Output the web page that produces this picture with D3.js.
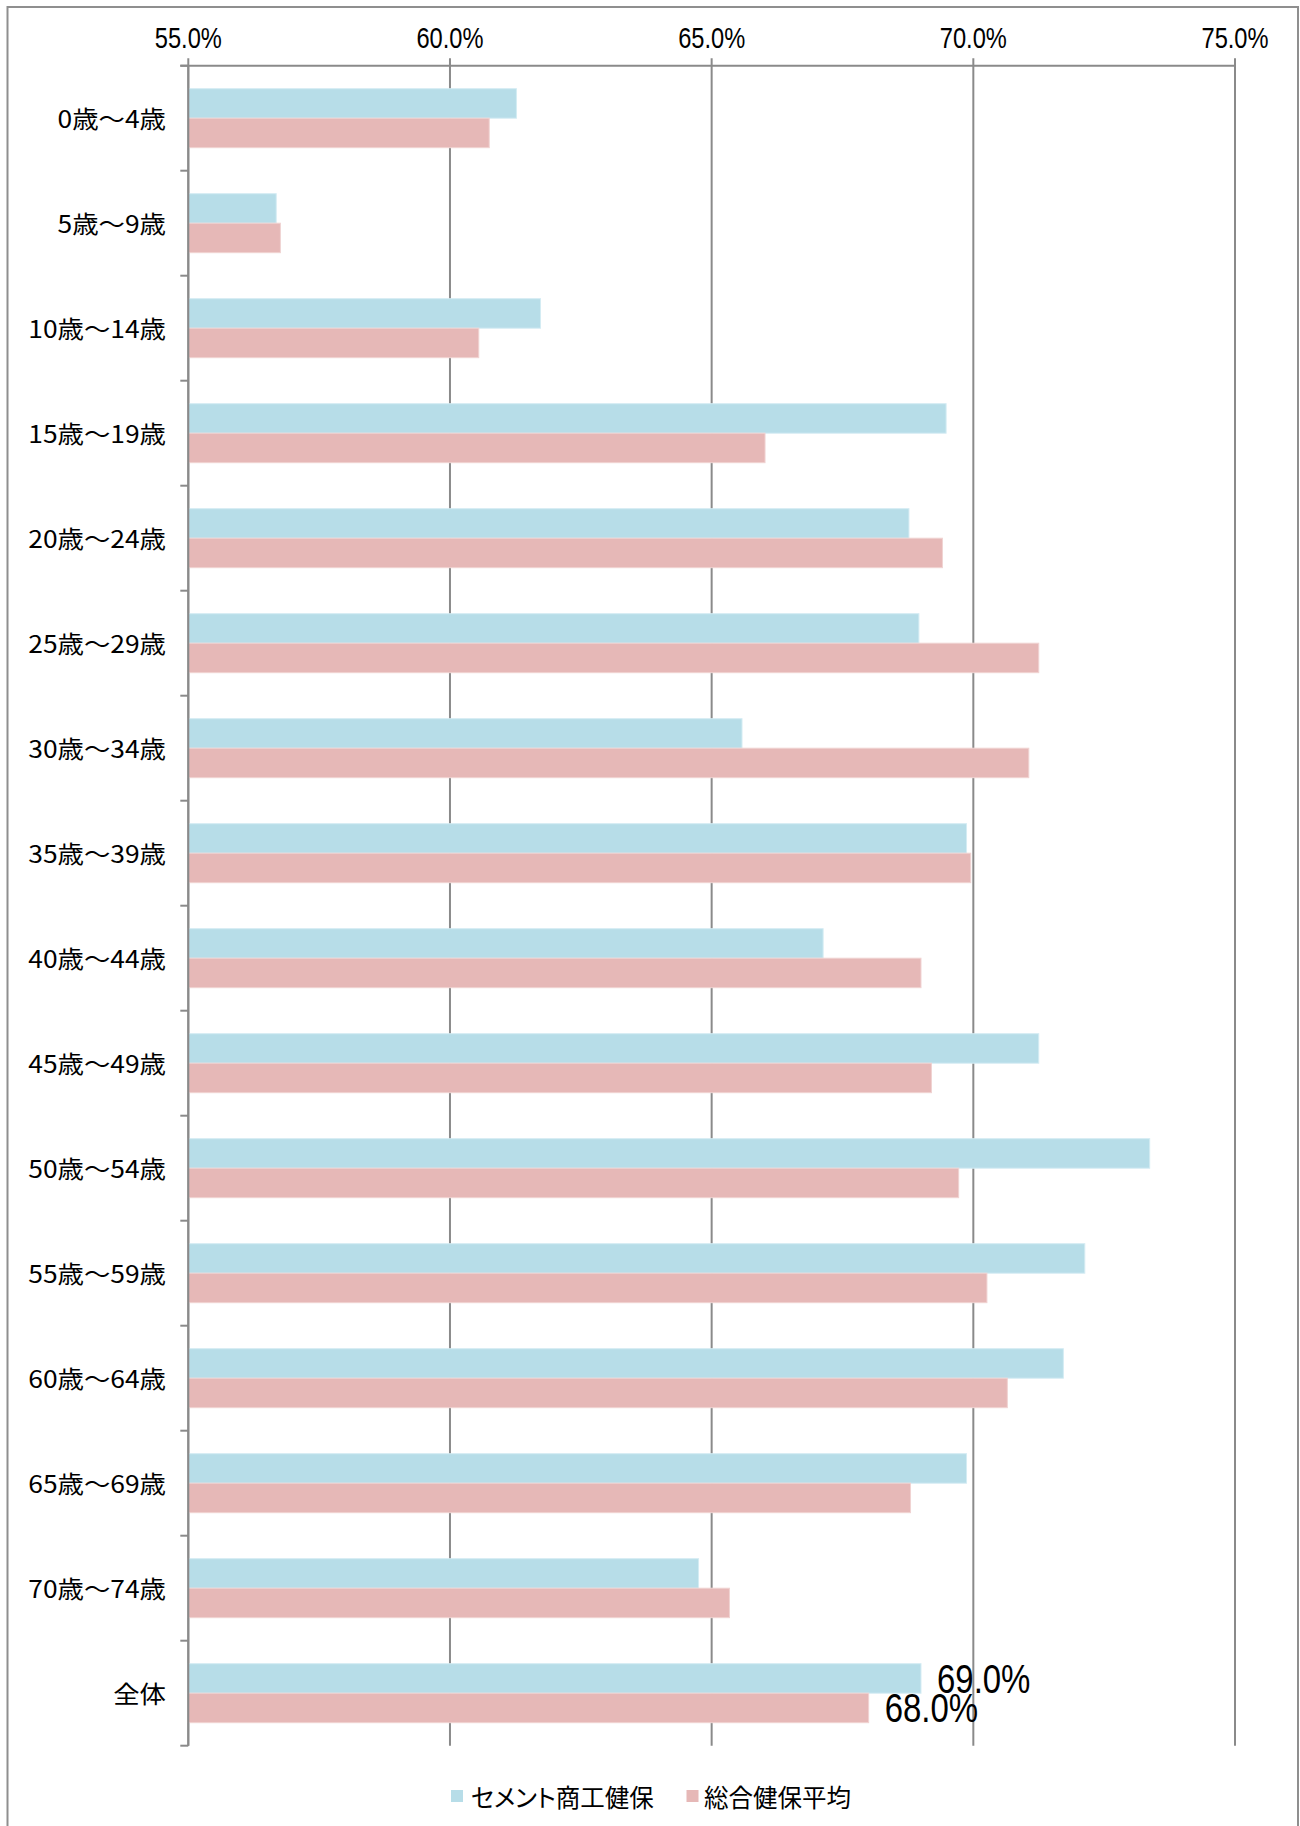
<!DOCTYPE html>
<html lang="ja">
<head>
<meta charset="utf-8">
<title>年齢階層別 比較</title>
<script src="https://cdn.jsdelivr.net/npm/d3@7"></script>
<style>
  html, body { margin: 0; padding: 0; background: #fff; }
  svg { display: block; }
  .num { font-family: "Liberation Sans", Arial, sans-serif; fill: #000; }
  .jp { font-family: "Noto Sans CJK JP", "Noto Sans", sans-serif; fill: #000; font-feature-settings: "palt"; }
</style>
</head>
<body>
<svg id="chart" width="1300" height="1826"></svg>
<script>
// Age groups (rows, top to bottom)
const categories = [
  "0歳～4歳", "5歳～9歳", "10歳～14歳", "15歳～19歳", "20歳～24歳",
  "25歳～29歳", "30歳～34歳", "35歳～39歳", "40歳～44歳", "45歳～49歳",
  "50歳～54歳", "55歳～59歳", "60歳～64歳", "65歳～69歳", "70歳～74歳", "全体"
];

// Series names
const seriesNames = ["セメント商工健保", "総合健保平均"];

// Values in percent
const cementValues = [61.27, 56.68, 61.73, 69.48, 68.77, 68.96, 65.58, 69.87, 67.13, 71.25, 73.37, 72.13, 71.72, 69.87, 64.75, 69.0];
const averageValues = [60.75, 56.76, 60.55, 66.02, 69.41, 71.25, 71.06, 69.95, 69.0, 69.20, 69.72, 70.26, 70.65, 68.80, 65.34, 68.0];

// Horizontal axis ticks
const xTicks = [55, 60, 65, 70, 75];

// Only the overall row carries value labels
const labelledCategory = "全体";

const seriesColors = ["#b7dde8", "#e6b8b7"];
const seriesStroke = ["#d4ecf3", "#f0d3d2"];
const gridColor = "#8a8a8a";

const svg = d3.select("#chart");

// Outer frame
svg.append("rect")
  .attr("x", 7.5).attr("y", 7)
  .attr("width", 1290.5).attr("height", 1830)
  .attr("fill", "none")
  .attr("stroke", "#8f8f8f")
  .attr("stroke-width", 2);

const x = d3.scaleLinear().domain([55, 75]).range([188.3, 1235]);
const y = d3.scaleBand().domain(categories).range([65.7, 1745.7]).padding(0);
const ySub = d3.scaleBand().domain([0, 1]).range([0, y.bandwidth()]).paddingInner(0).paddingOuter(0.78);

const fmt = d3.format(".1%");
const yTop = y.range()[0];
const yBottom = y.range()[1];

// Vertical gridlines
svg.append("g").selectAll("line")
  .data(xTicks)
  .join("line")
  .attr("x1", d => x(d)).attr("x2", d => x(d))
  .attr("y1", yTop - 7.4).attr("y2", yBottom)
  .attr("stroke", gridColor).attr("stroke-width", 2);

// Top axis line
svg.append("line")
  .attr("x1", x(55) - 8).attr("x2", x(75) + 1)
  .attr("y1", yTop).attr("y2", yTop)
  .attr("stroke", gridColor).attr("stroke-width", 2);

// Top tick labels (condensed numerals)
svg.append("g").selectAll("text")
  .data(xTicks)
  .join("text")
  .attr("class", "num")
  .attr("text-anchor", "middle")
  .attr("font-size", 29.2)
  .attr("transform", d => `translate(${x(d)},${yTop - 17.4}) scale(0.81,1)`)
  .text(d => fmt(d / 100));

// Bars
const rows = svg.append("g").selectAll("g")
  .data(categories.map((c, i) => ({ c, vals: [cementValues[i], averageValues[i]] })))
  .join("g")
  .attr("transform", d => `translate(0,${y(d.c)})`);

rows.selectAll("rect")
  .data(d => d.vals.map((v, s) => ({ v, s })))
  .join("rect")
  .attr("x", x(55))
  .attr("y", d => ySub(d.s))
  .attr("width", d => x(d.v) - x(55))
  .attr("height", ySub.bandwidth())
  .attr("fill", d => seriesColors[d.s])
  .attr("stroke", d => seriesStroke[d.s])
  .attr("stroke-width", 1);

// Left axis line and category ticks
svg.append("line")
  .attr("x1", x(55)).attr("x2", x(55))
  .attr("y1", yTop).attr("y2", yBottom)
  .attr("stroke", gridColor).attr("stroke-width", 2);

const boundaries = categories.map(c => y(c)).concat([yBottom]);
svg.append("g").selectAll("line")
  .data(boundaries)
  .join("line")
  .attr("x1", x(55) - 8).attr("x2", x(55))
  .attr("y1", d => d).attr("y2", d => d)
  .attr("stroke", gridColor).attr("stroke-width", 2);

// Category labels
svg.append("g").selectAll("text")
  .data(categories)
  .join("text")
  .attr("class", "jp")
  .attr("text-anchor", "end")
  .attr("font-size", 24)
  .attr("transform", d => `translate(166,${y(d) + y.bandwidth() / 2 + 10}) scale(1.1,1)`)
  .text(d => d);

// Value labels on the overall row
const idx = categories.indexOf(labelledCategory);
[cementValues[idx], averageValues[idx]].forEach((v, s) => {
  svg.append("text")
    .attr("class", "num")
    .attr("font-size", 40.7)
    .attr("transform", `translate(${x(v) + 16},${y(labelledCategory) + ySub(s) + ySub.bandwidth() / 2 + 14.5}) scale(0.81,1)`)
    .text(fmt(v / 100));
});

// Legend
const legendItems = [
  { name: seriesNames[0], color: seriesColors[0], sx: 451, tx: 471 },
  { name: seriesNames[1], color: seriesColors[1], sx: 686.5, tx: 704 }
];
const legend = svg.append("g");
legend.selectAll("rect")
  .data(legendItems)
  .join("rect")
  .attr("x", d => d.sx).attr("y", 1790)
  .attr("width", 12).attr("height", 12)
  .attr("fill", d => d.color);
legend.selectAll("text")
  .data(legendItems)
  .join("text")
  .attr("class", "jp")
  .attr("font-size", 24.5)
  .attr("transform", d => `translate(${d.tx},1806.5) scale(1.0,1)`)
  .text(d => d.name);
</script>
</body>
</html>
